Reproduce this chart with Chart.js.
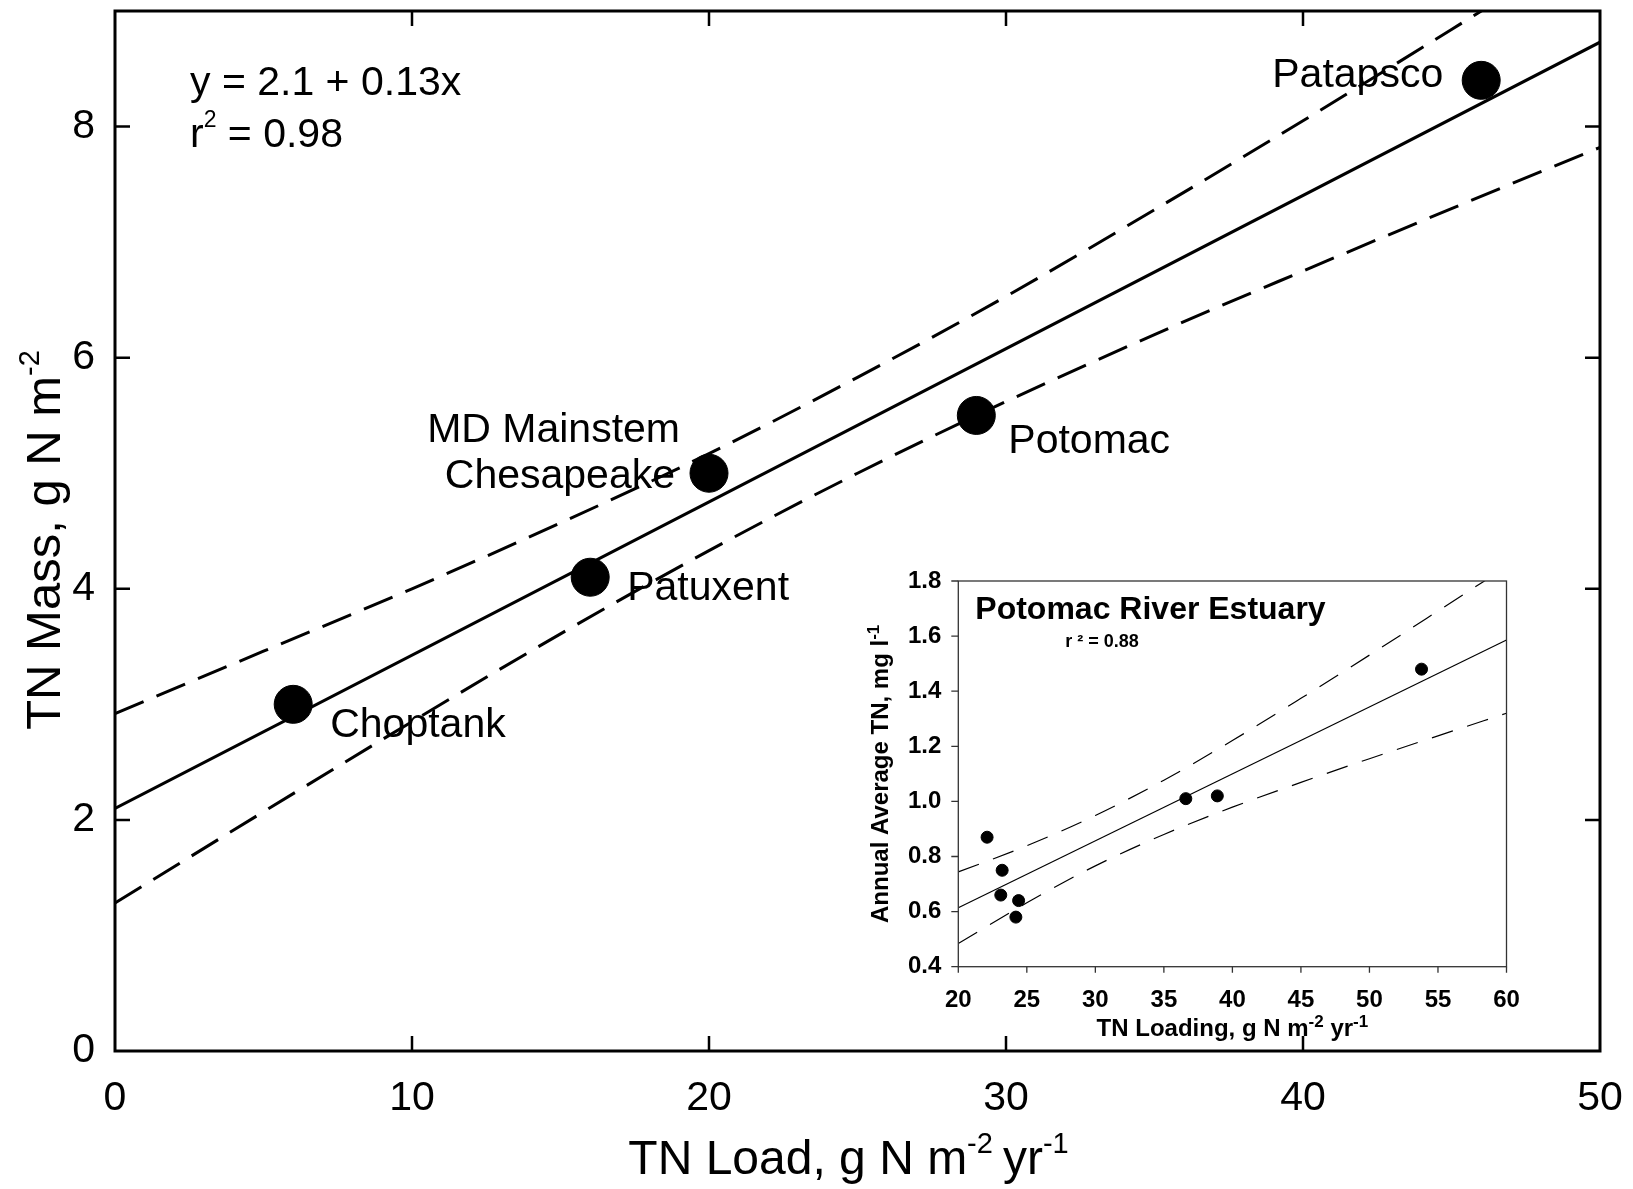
<!DOCTYPE html>
<html><head><meta charset="utf-8">
<script src="https://cdn.jsdelivr.net/npm/chart.js@4.4.1/dist/chart.umd.min.js"></script>
<style>
html,body{margin:0;padding:0;background:#fff;overflow:hidden;}
#wrap{position:relative;width:1633px;height:1189px;background:#fff;overflow:hidden;}
#main{position:absolute;left:0;top:0;}
#inset{position:absolute;left:850px;top:555px;}
</style></head><body>
<div id="wrap"><canvas id="main" width="1633" height="1198"></canvas><canvas id="inset" width="680" height="495"></canvas></div>
<script>
// ---------- main chart data ----------
const mainSites = ['Choptank', 'Patuxent', 'MD Mainstem\nChesapeake', 'Potomac', 'Patapsco'];
const mainLoad = [6, 16, 20, 29, 46];
const mainMass = [3.0, 4.1, 5.0, 5.5, 8.4];
const mainFitX = [0, 50];
const mainFitY = [2.10, 8.73];
const mainBandX = [0, 5, 10, 15, 20, 25, 30, 35, 40, 45, 50];
const mainUpper = [2.92, 3.46, 4.00, 4.57, 5.17, 5.83, 6.53, 7.28, 8.05, 8.84, 9.64];
const mainLower = [1.28, 2.07, 2.85, 3.61, 4.33, 5.00, 5.62, 6.20, 6.75, 7.29, 7.82];
const mainXTicks = [0, 10, 20, 30, 40, 50];
const mainYTicks = [0, 2, 4, 6, 8];
const mainEquation = 'y = 2.1 + 0.13x';
const mainR2 = '0.98';

// ---------- inset chart data ----------
const insetLoad = [22.1, 23.2, 23.1, 24.4, 24.2, 36.6, 38.9, 53.8];
const insetTN = [0.87, 0.75, 0.66, 0.64, 0.58, 1.01, 1.02, 1.48];
const insetFitX = [20, 60];
const insetFitY = [0.614, 1.586];
const insetBandX = [20, 25, 30, 35, 40, 45, 50, 55, 60];
const insetUpper = [0.744, 0.839, 0.949, 1.077, 1.221, 1.374, 1.531, 1.691, 1.852];
const insetLower = [0.484, 0.632, 0.766, 0.880, 0.979, 1.069, 1.155, 1.238, 1.320];
const insetXTicks = [20, 25, 30, 35, 40, 45, 50, 55, 60];
const insetYTicks = [0.4, 0.6, 0.8, 1.0, 1.2, 1.4, 1.6, 1.8];
const insetTitle = 'Potomac River Estuary';
const insetR2 = 'r \u00B2 = 0.88';

// ---------- styling (not data) ----------
const FAM = "'Liberation Sans', Arial, Helvetica, sans-serif";
const mainLabelOffsets = [
  [{dx: 37, dy: 33, align: 'left'}],
  [{dx: 37, dy: 23, align: 'left'}],
  [{dx: -29, dy: -31, align: 'right'}, {dx: -34, dy: 15, align: 'right'}],
  [{dx: 32, dy: 38, align: 'left'}],
  [{dx: -38, dy: 7, align: 'right'}]
];

function pts(xs, ys) { return xs.map((x, i) => ({x: x, y: ys[i]})); }

function drawRich(ctx, parts, x, y, align, weight) {
  weight = weight || 'normal';
  let w = 0;
  parts.forEach(p => { ctx.font = weight + ' ' + p.size + 'px ' + FAM; w += ctx.measureText(p.text).width + (p.gap || 0); });
  let cx = align === 'center' ? x - w / 2 : (align === 'right' ? x - w : x);
  ctx.textAlign = 'left';
  ctx.textBaseline = 'alphabetic';
  parts.forEach(p => {
    ctx.font = weight + ' ' + p.size + 'px ' + FAM;
    cx += (p.gap || 0);
    ctx.fillText(p.text, cx, y - (p.rise || 0));
    cx += ctx.measureText(p.text).width;
  });
}

function zeroPad(s) { s.paddingTop = 0; s.paddingBottom = 0; s.paddingLeft = 0; s.paddingRight = 0; }

function fitArea(chart, target) {
  for (let k = 0; k < 3; k++) {
    const a = chart.chartArea, p = chart.options.layout.padding;
    p.top += target.top - a.top;
    p.left += target.left - a.left;
    p.right += a.right - target.right;
    p.bottom += a.bottom - target.bottom;
    chart.update();
  }
}

const mainDecor = {
  id: 'mainDecor',
  afterDraw(chart) {
    const ctx = chart.ctx, a = chart.chartArea, x = chart.scales.x, y = chart.scales.y;
    ctx.save();
    ctx.strokeStyle = '#000';
    ctx.lineWidth = 3;
    ctx.strokeRect(a.left, a.top, a.right - a.left, a.bottom - a.top);
    ctx.lineWidth = 2.5;
    ctx.beginPath();
    x.ticks.forEach(t => {
      const px = x.getPixelForValue(t.value);
      if (px <= a.left + 1 || px >= a.right - 1) return;
      ctx.moveTo(px, a.bottom); ctx.lineTo(px, a.bottom - 15);
      ctx.moveTo(px, a.top); ctx.lineTo(px, a.top + 15);
    });
    y.ticks.forEach(t => {
      const py = y.getPixelForValue(t.value);
      if (py >= a.bottom - 1 || py <= a.top + 1) return;
      ctx.moveTo(a.left, py); ctx.lineTo(a.left + 15, py);
      ctx.moveTo(a.right, py); ctx.lineTo(a.right - 15, py);
    });
    ctx.stroke();
    ctx.fillStyle = '#000';
    // axis titles
    drawRich(ctx, [{text: 'TN Load, g N m', size: 48}, {text: '-2', size: 29, rise: 21},
                   {text: 'yr', size: 48, gap: 10}, {text: '-1', size: 29, rise: 21}],
             (a.left + a.right) / 2 - 9, a.bottom + 123, 'center');
    ctx.save();
    ctx.translate(60, (a.top + a.bottom) / 2 + 9);
    ctx.rotate(-Math.PI / 2);
    drawRich(ctx, [{text: 'TN Mass, g N m', size: 49}, {text: '-2', size: 29, rise: 21}], 0, 0, 'center');
    ctx.restore();
    // equation
    drawRich(ctx, [{text: mainEquation, size: 41}], a.left + 75, a.top + 84, 'left');
    drawRich(ctx, [{text: 'r', size: 41}, {text: '2', size: 23, rise: 20}, {text: ' = ' + mainR2, size: 41}],
             a.left + 75, a.top + 136, 'left');
    // point labels
    mainSites.forEach((name, i) => {
      const px = x.getPixelForValue(mainLoad[i]);
      const py = y.getPixelForValue(mainMass[i]);
      name.split('\n').forEach((line, j) => {
        const o = mainLabelOffsets[i][j];
        drawRich(ctx, [{text: line, size: 41}], px + o.dx, py + o.dy, o.align);
      });
    });
    ctx.restore();
  }
};

const mainCanvas = document.getElementById('main');
const mainChart = new Chart(mainCanvas, {
  type: 'scatter',
  data: {
    datasets: [
      {label: 'sites', data: pts(mainLoad, mainMass), showLine: false, pointRadius: 19, pointBorderWidth: 1,
       pointBackgroundColor: '#000', pointBorderColor: '#000'},
      {label: 'fit', data: pts(mainFitX, mainFitY), showLine: true, borderColor: '#000', borderWidth: 3, pointRadius: 0},
      {label: 'upper95', data: pts(mainBandX, mainUpper), showLine: true, borderColor: '#000', borderWidth: 3,
       borderDash: [31, 14], pointRadius: 0, cubicInterpolationMode: 'monotone'},
      {label: 'lower95', data: pts(mainBandX, mainLower), showLine: true, borderColor: '#000', borderWidth: 3,
       borderDash: [31, 14], pointRadius: 0, cubicInterpolationMode: 'monotone'}
    ]
  },
  options: {
    responsive: false, animation: false, events: [],
    layout: {padding: {top: 20, right: 33, left: 0, bottom: 0}},
    plugins: {legend: {display: false}, tooltip: {enabled: false}},
    scales: {
      x: {type: 'linear', min: 0, max: 50,
          afterBuildTicks: s => { s.ticks = mainXTicks.map(v => ({value: v})); },
          ticks: {font: {family: FAM, size: 41}, color: '#000', padding: 23, maxRotation: 0, autoSkip: false},
          grid: {display: false, drawTicks: false}, border: {display: false},
          afterFit: s => { s.height = 138; zeroPad(s); }},
      y: {type: 'linear', min: 0, max: 9,
          afterBuildTicks: s => { s.ticks = mainYTicks.map(v => ({value: v})); },
          ticks: {font: {family: FAM, size: 41}, color: '#000', padding: 20, autoSkip: false},
          grid: {display: false, drawTicks: false}, border: {display: false},
          afterFit: s => { s.width = 115; zeroPad(s); }}
    }
  },
  plugins: [mainDecor]
});
// place the canvas so that the plot frame sits at page y = 11 .. 1051
const mainOff = 11 - mainChart.chartArea.top;
mainCanvas.style.top = mainOff + 'px';
fitArea(mainChart, {left: 115, top: mainChart.chartArea.top, right: 1600, bottom: 1051 - mainOff});

const insetDecor = {
  id: 'insetDecor',
  afterDraw(chart) {
    const ctx = chart.ctx, a = chart.chartArea, x = chart.scales.x, y = chart.scales.y;
    ctx.save();
    ctx.strokeStyle = '#333';
    ctx.lineWidth = 1.3;
    ctx.strokeRect(a.left, a.top, a.right - a.left, a.bottom - a.top);
    ctx.beginPath();
    x.ticks.forEach(t => { const px = x.getPixelForValue(t.value); ctx.moveTo(px, a.bottom); ctx.lineTo(px, a.bottom + 6); });
    y.ticks.forEach(t => { const py = y.getPixelForValue(t.value); ctx.moveTo(a.left, py); ctx.lineTo(a.left - 7, py); });
    ctx.stroke();
    ctx.fillStyle = '#000';
    drawRich(ctx, [{text: insetTitle, size: 32}], a.left + 17, a.top + 38, 'left', 'bold');
    drawRich(ctx, [{text: insetR2, size: 18}], a.left + 107, a.top + 66, 'left', 'bold');
    drawRich(ctx, [{text: 'TN Loading, g N m', size: 24}, {text: '-2', size: 17, rise: 9},
                   {text: ' yr', size: 24}, {text: '-1', size: 17, rise: 9}],
             (a.left + a.right) / 2, a.bottom + 69, 'center', 'bold');
    ctx.save();
    ctx.translate(a.left - 70, (a.top + a.bottom) / 2);
    ctx.rotate(-Math.PI / 2);
    drawRich(ctx, [{text: 'Annual Average TN, mg l', size: 24}, {text: '-1', size: 17, rise: 9}], 0, 0, 'center', 'bold');
    ctx.restore();
    ctx.restore();
  }
};

const insetChart = new Chart(document.getElementById('inset'), {
  type: 'scatter',
  data: {
    datasets: [
      {label: 'years', data: pts(insetLoad, insetTN), showLine: false, pointRadius: 6, pointBorderWidth: 1,
       pointBackgroundColor: '#000', pointBorderColor: '#000'},
      {label: 'fit', data: pts(insetFitX, insetFitY), showLine: true, borderColor: '#000', borderWidth: 1.2, pointRadius: 0},
      {label: 'upper95', data: pts(insetBandX, insetUpper), showLine: true, borderColor: '#000', borderWidth: 1.2,
       borderDash: [22, 15], pointRadius: 0, cubicInterpolationMode: 'monotone'},
      {label: 'lower95', data: pts(insetBandX, insetLower), showLine: true, borderColor: '#000', borderWidth: 1.2,
       borderDash: [22, 15], pointRadius: 0, cubicInterpolationMode: 'monotone'}
    ]
  },
  options: {
    responsive: false, animation: false, events: [],
    layout: {padding: {top: 26, right: 23.5, left: 0, bottom: 0}},
    plugins: {legend: {display: false}, tooltip: {enabled: false}},
    scales: {
      x: {type: 'linear', min: 20, max: 60,
          afterBuildTicks: s => { s.ticks = insetXTicks.map(v => ({value: v})); },
          ticks: {font: {family: FAM, size: 24, weight: 'bold'}, color: '#000', padding: 19, maxRotation: 0, autoSkip: false},
          grid: {display: false, drawTicks: false}, border: {display: false},
          afterFit: s => { s.height = 83.3; zeroPad(s); }},
      y: {type: 'linear', min: 0.4, max: 1.8,
          afterBuildTicks: s => { s.ticks = insetYTicks.map(v => ({value: v})); },
          ticks: {font: {family: FAM, size: 24, weight: 'bold'}, color: '#000', padding: 17, autoSkip: false,
                  callback: v => Number(v).toFixed(1)},
          grid: {display: false, drawTicks: false}, border: {display: false},
          afterFit: s => { s.width = 108.3; zeroPad(s); }}
    }
  },
  plugins: [insetDecor]
});
fitArea(insetChart, {left: 108.3, top: 26, right: 656.5, bottom: 411.7});
</script></body></html>
